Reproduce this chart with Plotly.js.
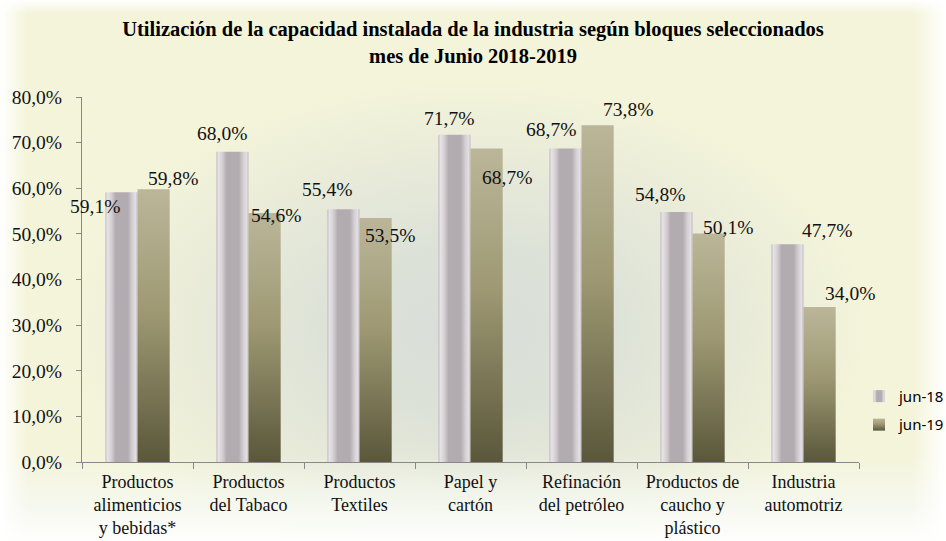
<!DOCTYPE html>
<html>
<head>
<meta charset="utf-8">
<script src="https://cdn.plot.ly/plotly-3.0.1.min.js"></script>
<style>
html,body{margin:0;padding:0;background:#fff;}
#chart{width:946px;height:541px;
background:
 linear-gradient(to right,#fff 0px,rgba(255,255,255,0) 28px,rgba(255,255,255,0) 912px,#fff 946px),
 linear-gradient(to bottom,#fff 0px,rgba(255,255,255,0) 14px,rgba(255,255,255,0) 455px,rgba(246,249,242,0.85) 505px,rgba(255,255,255,0.95) 541px),
 radial-gradient(ellipse 400px 250px at 470px 330px,#d8ddd8 0%,#dde2d8 35%,rgba(244,244,218,0) 100%),
 #f4f4da;}
</style>
</head>
<body>
<div id="chart"></div>
<script>
var categories = [
  "Productos<br>alimenticios<br>y bebidas*",
  "Productos<br>del Tabaco",
  "Productos<br>Textiles",
  "Papel y<br>cartón",
  "Refinación<br>del petróleo",
  "Productos de<br>caucho y<br>plástico",
  "Industria<br>automotriz"
];
var jun18 = [59.1, 68.0, 55.4, 71.7, 68.7, 54.8, 47.7];
var jun19 = [59.8, 54.6, 53.5, 68.7, 73.8, 50.1, 34.0];
var seriesNames = ["jun-18", "jun-19"];
var yTicks = [0, 10, 20, 30, 40, 50, 60, 70, 80];

// label nudges (pixels) relative to category centre / bar top
var dx18 = [-42.5, -26.5, -32.5, -21.5, -31, -32.5, 23.5];
var dy18 = [-14, 18, 20, 16, 19, 17, 14];
var dx19 = [35.5, 27.5, 30.5, 36, 46.5, 35.5, 46.5];
var dy19 = [11, -3, -18, -29, 16, 6, 13];

function fmt(v){ return v.toFixed(1).replace('.', ',') + '%'; }

var serif = "Liberation Serif, serif";
var traces = [
  {type:'bar', name:seriesNames[0], x:categories, y:jun18, marker:{color:'#b1abaf'}, legendgroup:'a', hoverinfo:'none'},
  {type:'bar', name:seriesNames[1], x:categories, y:jun19, marker:{color:'#8e8a64'}, legendgroup:'b', hoverinfo:'none'}
];

var annotations = [];
categories.forEach(function(c, i){
  annotations.push({x:c, y:jun18[i], xref:'x', yref:'y', text:fmt(jun18[i]), showarrow:false,
    xshift:dx18[i], yshift:dy18[i], font:{family:serif, size:19.5, color:'#111'}});
  annotations.push({x:c, y:jun19[i], xref:'x', yref:'y', text:fmt(jun19[i]), showarrow:false,
    xshift:dx19[i], yshift:dy19[i], font:{family:serif, size:19.5, color:'#111'}});
});

var layout = {
  width:946, height:541,
  margin:{l:82, r:87, t:97, b:79, autoexpand:false},
  paper_bgcolor:'rgba(0,0,0,0)', plot_bgcolor:'rgba(0,0,0,0)',
  separators:',.',
  title:{text:'Utilización de la capacidad instalada de la industria según bloques seleccionados<br>mes de Junio 2018-2019',
    font:{family:'Liberation Serif, serif', size:20.5, color:'#000', weight:'bold'},
    x:0.5, xanchor:'center', xref:'container', y:1-36/541, yanchor:'top', yref:'container'},
  barmode:'group', bargap:0.42, bargroupgap:0,
  showlegend:true,
  legend:{x:1.0, xanchor:'left', y:0.225, yanchor:'top', traceorder:'grouped', tracegroupgap:6,
    font:{family:'Noto Sans, sans-serif', size:15, color:'#000'}, bgcolor:'rgba(0,0,0,0)', itemwidth:30},
  xaxis:{range:[-0.5, 6.5], showline:true, linecolor:'#888', linewidth:1, ticks:'outside', tickson:'boundaries', ticklen:6,
    ticklabelstandoff:3,
    tickangle:0, tickcolor:'#888', tickfont:{family:serif, size:18, color:'#111'}, showgrid:false, zeroline:false, fixedrange:true},
  yaxis:{range:[0,80], tickmode:'array', tickvals:yTicks, ticktext:yTicks.map(fmt), showline:true, linecolor:'#888', linewidth:1,
    ticks:'outside', ticklen:5, tickcolor:'#888', showgrid:false, zeroline:false, ticklabelstandoff:10,
    tickfont:{family:serif, size:19.5, color:'#111'}, fixedrange:true},
  annotations:annotations
};

Plotly.newPlot('chart', traces, layout, {displayModeBar:false, staticPlot:true}).then(function(gd){
  var svg = gd.querySelector('svg.main-svg');
  var ns = 'http://www.w3.org/2000/svg';
  var defs = document.createElementNS(ns, 'defs');
  function grad(id, horiz, stops){
    var g = document.createElementNS(ns, 'linearGradient');
    g.setAttribute('id', id);
    g.setAttribute('x1', '0'); g.setAttribute('y1', '0');
    g.setAttribute('x2', horiz ? '1' : '0'); g.setAttribute('y2', horiz ? '0' : '1');
    stops.forEach(function(s){
      var st = document.createElementNS(ns, 'stop');
      st.setAttribute('offset', s[0]); st.setAttribute('stop-color', s[1]);
      g.appendChild(st);
    });
    defs.appendChild(g);
  }
  grad('g18', true, [[0,'#c4bec3'],[0.07,'#e6e2e6'],[0.2,'#d3cdd1'],[0.32,'#b2acb0'],[0.7,'#b2acb0'],[0.84,'#d4cfd3'],[0.94,'#e2dee2'],[1,'#c0bac0']]);
  grad('g19', false, [[0,'#bbb699'],[0.45,'#9e9973'],[1,'#5a573b']]);
  svg.insertBefore(defs, svg.firstChild);
  var barTraces = gd.querySelectorAll('.barlayer .trace');
  var ids = ['g18','g19'];
  barTraces.forEach(function(t, i){
    t.querySelectorAll('path').forEach(function(p){ p.style.fill = 'url(#' + ids[i] + ')'; });
  });
  var legTraces = gd.querySelectorAll('.legend .traces');
  legTraces.forEach(function(t, i){
    t.querySelectorAll('.legendpoints path').forEach(function(p){ p.style.fill = 'url(#' + ids[i] + ')'; });
  });
});
</script>
</body>
</html>
